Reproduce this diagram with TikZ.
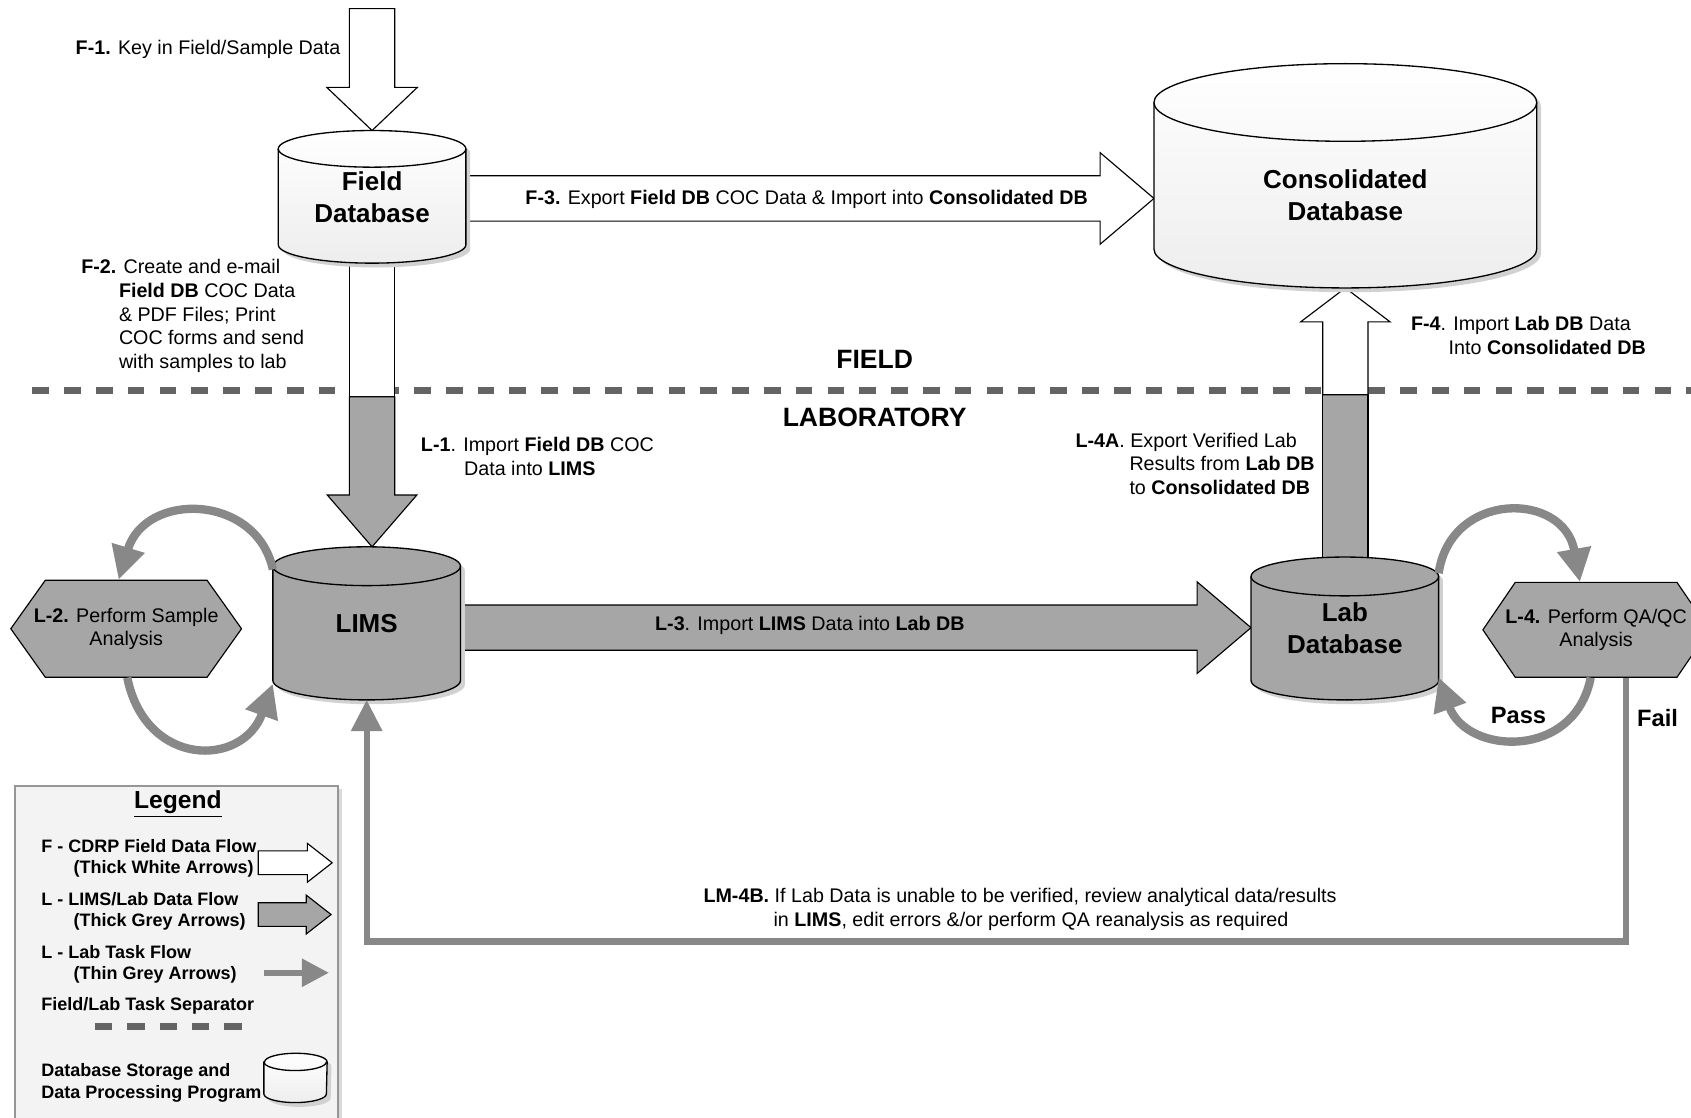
\documentclass[tikz,border=0pt]{standalone}
\usepackage{fontspec}
\setmainfont{Liberation Sans}
\usetikzlibrary{arrows.meta,calc}
\pgfdeclarelayer{bg}
\pgfsetlayers{bg,main}
\definecolor{greyfill}{RGB}{166,166,166}
\definecolor{taskgrey}{RGB}{136,136,136}
\definecolor{dashgrey}{RGB}{100,100,100}
\definecolor{legendbg}{RGB}{243,243,243}
\definecolor{legendborder}{RGB}{150,150,150}

% horizontal block arrow: start, tip, half shaft, half head, head length, style
\newcommand{\harr}[6]{\draw[#6] let \p1=(#1), \p2=(#2) in
  (\x1-2pt,\y1+#3) -- (\x2-#5,\y1+#3) -- (\x2-#5,\y1+#4) -- (\x2,\y1) --
  (\x2-#5,\y1-#4) -- (\x2-#5,\y1-#3) -- (\x1-2pt,\y1-#3) -- cycle;}
% downward block arrow
\newcommand{\darr}[6]{\draw[#6] let \p1=(#1), \p2=(#2) in
  (\x1-#3,\y1) -- (\x1-#3,\y2+#5) -- (\x1-#4,\y2+#5) -- (\x1,\y2) --
  (\x1+#4,\y2+#5) -- (\x1+#3,\y2+#5) -- (\x1+#3,\y1) -- cycle;}
% upward block arrow
\newcommand{\uarr}[6]{\draw[#6] let \p1=(#1), \p2=(#2) in
  (\x1-#3,\y1) -- (\x1-#3,\y2-#5) -- (\x1-#4,\y2-#5) -- (\x1,\y2) --
  (\x1+#4,\y2-#5) -- (\x1+#3,\y2-#5) -- (\x1+#3,\y1) -- cycle;}
% cylinder drawn round a node: node, rx, ry, fill options
\newcommand{\drawcyl}[4]{%
  \begin{scope}[transform canvas={shift={(0.08cm,-0.08cm)}}]
  \fill[black!18] ([yshift=-#3]#1.north west) -- ([yshift=#3]#1.south west)
    arc[start angle=180,end angle=360,x radius=#2,y radius=#3] -- ([yshift=-#3]#1.north east)
    arc[start angle=0,end angle=180,x radius=#2,y radius=#3] -- cycle;
  \end{scope}
  \draw[cylline, #4] ([yshift=-#3]#1.north west) -- ([yshift=#3]#1.south west)
    arc[start angle=180,end angle=360,x radius=#2,y radius=#3] -- ([yshift=-#3]#1.north east)
    arc[start angle=0,end angle=180,x radius=#2,y radius=#3] -- cycle;
  \draw[cylline] ([yshift=-#3]#1.north west) arc[start angle=180,end angle=360,x radius=#2,y radius=#3];}
% hexagon round a node centre: node, half top width, half height, point extent
\newcommand{\hexa}[4]{\draw[draw=black, line width=0.6pt, fill=greyfill]
  ([shift={(-#2,#3)}]#1.center) -- ([shift={(#2,#3)}]#1.center) -- ([shift={(#2+#4,0)}]#1.center) --
  ([shift={(#2,-#3)}]#1.center) -- ([shift={(-#2,-#3)}]#1.center) -- ([shift={(-#2-#4,0)}]#1.center) -- cycle;}

\begin{document}
\begin{tikzpicture}[x=0.02cm,y=0.02cm,
  dbnode/.style={rectangle, inner sep=0pt, outer sep=0pt, align=center, font=\bfseries\fontsize{13.7}{17}\selectfont},
  lbl/.style={inner sep=0pt, align=left, font=\fontsize{10.4}{12.5}\selectfont},
  clbl/.style={inner sep=0pt, align=center, font=\fontsize{10.4}{12.5}\selectfont},
  bigbold/.style={inner sep=0pt, font=\bfseries\fontsize{14}{16.5}\selectfont},
  hexbox/.style={rectangle, inner sep=0pt, minimum width=3cm, align=center, font=\fontsize{10.4}{12.5}\selectfont},
  whitearrow/.style={draw=black, line width=0.6pt, fill=white},
  greyarrow/.style={draw=black, line width=0.6pt, fill=greyfill},
  whitecyl/.style={top color=white, bottom color=black!7},
  greycyl/.style={fill=greyfill},
  taskarrow/.style={draw=taskgrey, line width=4.4pt, -{Triangle[length=0.62cm,width=0.6cm]}},
  failarrow/.style={draw=taskgrey, line width=3.2pt, -{Triangle[length=0.58cm,width=0.56cm]}},
  sepline/.style={draw=dashgrey, line width=3.5pt, dash pattern=on 0.31cm off 0.28cm},
  cylline/.style={draw=black, line width=0.7pt},
  legtxt/.style={inner sep=0pt, align=left, font=\bfseries\fontsize{9.5}{11.4}\selectfont},
  legbox/.style={rectangle, draw=legendborder, fill=legendbg, line width=0.8pt, inner sep=0pt, minimum width=6cm, minimum height=6.5cm, anchor=north west}
]
\useasboundingbox (0,0) rectangle (1568,-1036);

% ---------- nodes ----------
\node[dbnode, minimum width=3.48cm, minimum height=2.46cm] (fdb) at (345,-182.5) {Field\\Database};
\node[dbnode, minimum width=7.1cm, minimum height=4.16cm] (cdb) at (1247.5,-163)
  {\rule{0pt}{1.06cm}Consolidated\\Database};
\node[dbnode, minimum width=3.48cm, minimum height=2.84cm] (lims) at (340,-578) {LIMS};
\node[dbnode, minimum width=3.48cm, minimum height=2.65cm] (labdb) at (1247,-582.75) {Lab\\Database};
\node[hexbox, minimum height=1.8cm] (l2) at (117,-583) {\textbf{L-2.} Perform Sample\\Analysis};
\node[hexbox, minimum height=1.76cm] (l4) at (1480,-584) {\textbf{L-4.} Perform QA/QC\\Analysis};

\coordinate (sepL) at (30,-362);
\coordinate (sepR) at (1580,-362);
\coordinate (f1top) at (345,-8);
\coordinate (splitL) at (0,-368);
\coordinate (splitR) at (0,-366);
\coordinate (f3y) at (0,-184);
\coordinate (l3y) at (0,-582);
\coordinate (failx) at (1508,0);
\coordinate (failb) at (0,-873);

\begin{pgfonlayer}{bg}
  \fill[white] (0,0) rectangle (1568,-1036);
  % separator
  \draw[sepline] (sepL) -- (sepR);
  % F-1
  \darr{f1top}{fdb.north}{0.42cm}{0.84cm}{0.8cm}{whitearrow}
  % F-2 (white) and L-1 (grey)
  \draw[whitearrow] let \p1=(fdb.south), \p2=(splitL) in (\x1-0.42cm,\y1+0.5cm) rectangle (\x1+0.42cm,\y2);
  \darr{fdb.south |- splitL}{fdb.south |- lims.north}{0.42cm}{0.83cm}{0.96cm}{greyarrow}
  % F-3
  \harr{fdb.east |- f3y}{cdb.west |- f3y}{0.42cm}{0.85cm}{1cm}{whitearrow}
  % L-3
  \harr{lims.east |- l3y}{labdb.west |- l3y}{0.42cm}{0.85cm}{1cm}{greyarrow}
  % L-4A (grey) and F-4 (white)
  \draw[greyarrow] let \p1=(cdb.south), \p2=(labdb.north), \p3=(splitR) in (\x1-0.42cm,\y2-0.5cm) rectangle (\x1+0.42cm,\y3);
  \uarr{cdb.south |- splitR}{cdb.south}{0.42cm}{0.83cm}{0.63cm}{whitearrow}
  % cylinders
  \drawcyl{fdb}{1.74cm}{0.34cm}{whitecyl}
  \drawcyl{cdb}{3.55cm}{0.72cm}{whitecyl}
  \drawcyl{lims}{1.74cm}{0.36cm}{greycyl}
  \drawcyl{labdb}{1.74cm}{0.36cm}{greycyl}
  % hexagons
  \hexa{l2}{1.5cm}{0.9cm}{0.64cm}
  \hexa{l4}{1.5cm}{0.88cm}{0.6cm}
\end{pgfonlayer}

% ---------- task arrows ----------
\draw[taskarrow] ([yshift=-0.42cm]lims.north west) .. controls (238,-458) and (135,-455) .. ([xshift=-0.14cm]l2.north);
\draw[taskarrow] ([xshift=0.02cm]l2.south) .. controls (135,-712) and (225,-712) .. ([yshift=0.3cm]lims.south west);
\draw[taskarrow] ([yshift=-0.3cm]labdb.north east) .. controls (1345,-455) and (1450,-455) .. ([xshift=-0.3cm]l4.north);
\draw[taskarrow] ([xshift=-0.1cm]l4.south) .. controls (1460,-705) and (1360,-700) .. ([yshift=0.42cm]labdb.south east);
\draw[failarrow] (l4.south -| failx) |- (failb -| lims.south) -- (lims.south);

% ---------- labels ----------
\node[lbl, anchor=east] (f1lbl) at (316,-46) {\textbf{F-1.} Key in Field/Sample Data};
\node[lbl, anchor=west] (f2lbl) at (75,-293) {\textbf{F-2.} Create and e-mail\\
  \hspace*{0.7cm}\textbf{Field DB} COC Data\\
  \hspace*{0.7cm}\& PDF Files; Print\\
  \hspace*{0.7cm}COC forms and send\\
  \hspace*{0.7cm}with samples to lab};
\node[clbl] (f3lbl) at (748,-185) {\textbf{F-3.} Export \textbf{Field DB} COC Data \& Import into \textbf{Consolidated DB}};
\node[bigbold] (fieldlbl) at (811,-333) {FIELD};
\node[bigbold] (lablbl) at (811,-387) {LABORATORY};
\node[lbl, anchor=west] (l1lbl) at (390,-423) {\textbf{L-1}. Import \textbf{Field DB} COC\\\hspace*{0.8cm}Data into \textbf{LIMS}};
\node[clbl] (l3lbl) at (751,-580) {\textbf{L-3}. Import \textbf{LIMS} Data into \textbf{Lab DB}};
\node[lbl, anchor=west] (l4albl) at (997,-430) {\textbf{L-4A}. Export Verified Lab\\
  \hspace*{1cm}Results from \textbf{Lab DB}\\
  \hspace*{1cm}to \textbf{Consolidated DB}};
\node[lbl, anchor=west] (f4lbl) at (1308,-311) {\textbf{F-4}. Import \textbf{Lab DB} Data\\\hspace*{0.7cm}Into \textbf{Consolidated DB}};
\node[inner sep=0pt, font=\bfseries\fontsize{12.5}{15}\selectfont] (passlbl) at (1408,-663) {Pass};
\node[inner sep=0pt, font=\bfseries\fontsize{12.5}{15}\selectfont] (faillbl) at (1537,-666) {Fail};
\node[lbl, anchor=west] (lm4blbl) at (652,-843) {\textbf{LM-4B.} If Lab Data is unable to be verified, review analytical data/results\\
  \hspace*{1.3cm}in \textbf{LIMS}, edit errors \&/or perform QA reanalysis as required};

% ---------- legend ----------
\begin{pgfonlayer}{bg}
  \fill[black!15] (17,-732) rectangle (317,-1060);
  \node[legbox] (legend) at (13,-728) {};
  \coordinate (lw1) at (243,-800); \coordinate (lw2) at (308,-800);
  \harr{lw1}{lw2}{0.22cm}{0.36cm}{0.46cm}{whitearrow}
  \coordinate (lg1) at (243,-848); \coordinate (lg2) at (307,-848);
  \harr{lg1}{lg2}{0.22cm}{0.36cm}{0.46cm}{greyarrow}
  \node[rectangle, inner sep=0pt, minimum width=1.16cm, minimum height=0.9cm] (lcyl) at (274,-999.5) {};
  \drawcyl{lcyl}{0.58cm}{0.16cm}{whitecyl}
\end{pgfonlayer}
\coordinate (lt1) at (245,-902); \coordinate (lt2) at (305,-902);
\draw[taskarrow, line width=3pt, -{Triangle[length=0.5cm,width=0.5cm]}] (lt1) -- (lt2);
\coordinate (ld1) at (88,-952); \coordinate (ld2) at (226,-952);
\draw[sepline, dash pattern=on 0.32cm off 0.28cm] (ld1) -- (ld2);

\node[inner sep=0pt, font=\bfseries\fontsize{13}{15}\selectfont] (leghead) at (165,-746) {\underline{Legend}};
\node[legtxt, anchor=west] (legt1) at (38,-796) {F - CDRP Field Data Flow\\\hspace*{0.6cm}(Thick White Arrows)};
\node[legtxt, anchor=west] (legt2) at (38,-845) {L - LIMS/Lab Data Flow\\\hspace*{0.6cm}(Thick Grey Arrows)};
\node[legtxt, anchor=west] (legt3) at (38,-894) {L - Lab Task Flow\\\hspace*{0.6cm}(Thin Grey Arrows)};
\node[legtxt, anchor=west] (legt4) at (38,-933) {Field/Lab Task Separator};
\node[legtxt, anchor=west] (legt5) at (38,-1004) {Database Storage and\\Data Processing Program};
\end{tikzpicture}
\end{document}
